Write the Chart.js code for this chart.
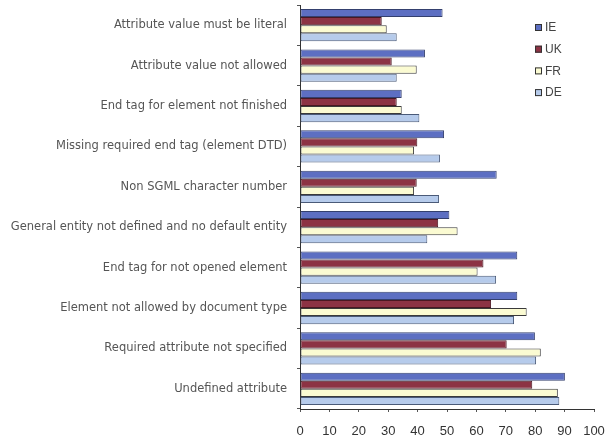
<!DOCTYPE html>
<html>
<head>
<meta charset="utf-8">
<script src="https://cdn.jsdelivr.net/npm/chart.js@4/dist/chart.umd.min.js"></script>
<style>
  html, body { margin: 0; padding: 0; background: #ffffff; }
  #wrap { width: 607px; height: 438px; position: relative; }
</style>
</head>
<body>
<div id="wrap"><canvas id="c"></canvas></div>
<script>
// Validation error types, listed top to bottom
const categories = [
  "Attribute value must be literal",
  "Attribute value not allowed",
  "End tag for element not finished",
  "Missing required end tag (element DTD)",
  "Non SGML character number",
  "General entity not defined and no default entity",
  "End tag for not opened element",
  "Element not allowed by document type",
  "Required attribute not specified",
  "Undefined attribute"
];

// Share of pages (%) per country
const seriesIE = [48.5, 42.5, 34.6, 49.0, 66.9, 50.8, 73.9, 73.9, 79.9, 90.1];
const seriesUK = [27.8, 31.2, 32.9, 39.9, 39.7, 47.0, 62.4, 65.0, 70.3, 79.0];
const seriesFR = [29.5, 39.7, 34.6, 38.8, 38.8, 53.6, 60.4, 77.1, 81.9, 87.7];
const seriesDE = [32.9, 32.9, 40.6, 47.6, 47.3, 43.3, 66.7, 72.8, 80.3, 88.2];

const seriesLabels = ["IE", "UK", "FR", "DE"];
const xTicks = [0, 10, 20, 30, 40, 50, 60, 70, 80, 90, 100];

const fills = ["#5d6fc2", "#8c3344", "#fbfbd2", "#b6cbeb"];
const edges = ["#34406e", "#4a1822", "#3a3a3a", "#4a5a78"];

// Small boxed legend in the upper right of the plot
const cornerLegend = {
  id: "cornerLegend",
  afterDraw(chart) {
    const ctx = chart.ctx;
    ctx.save();
    ctx.font = "12px 'Liberation Sans', Arial, sans-serif";
    ctx.textBaseline = "middle";
    chart.data.datasets.forEach((ds, i) => {
      const y = 27 + i * 21.7;
      const x = 535;
      ctx.fillStyle = ds.backgroundColor;
      ctx.fillRect(x, y - 3, 7, 7);
      ctx.strokeStyle = "#333";
      ctx.lineWidth = 1;
      ctx.strokeRect(x + 0.5, y - 2.5, 6, 6);
      ctx.fillStyle = "#444";
      ctx.fillText(ds.label, x + 10, y + 1);
    });
    ctx.restore();
  }
};

const values = [seriesIE, seriesUK, seriesFR, seriesDE];

new Chart(document.getElementById("c"), {
  type: "bar",
  data: {
    labels: categories,
    datasets: values.map((v, i) => ({
      label: seriesLabels[i],
      data: v,
      backgroundColor: fills[i],
      borderColor: edges[i],
      borderWidth: 1,
      borderSkipped: false,
      categoryPercentage: 0.8,
      barPercentage: 1.0
    }))
  },
  options: {
    indexAxis: "y",
    responsive: true,
    maintainAspectRatio: false,
    animation: false,
    layout: { padding: { top: 5, right: 13, left: 0, bottom: 0 } },
    plugins: {
      legend: { display: false },
      tooltip: { enabled: false }
    },
    scales: {
      x: {
        min: 0,
        max: 100,
        afterBuildTicks(scale) {
          scale.ticks = xTicks.map(v => ({ value: v }));
        },
        afterFit(scale) {
          scale.height = 29;
          scale.paddingLeft = 0;
          scale.paddingRight = 0;
        },
        border: { display: true, color: "#333", width: 1 },
        grid: {
          drawOnChartArea: false,
          drawTicks: true,
          tickLength: 3,
          color: "#555"
        },
        ticks: {
          color: "#333",
          padding: 12,
          maxRotation: 0,
          font: { family: "'Liberation Sans', Arial, sans-serif", size: 13 }
        }
      },
      y: {
        afterFit(scale) {
          scale.width = 300;
          scale.paddingTop = 0;
          scale.paddingBottom = 0;
        },
        border: { display: true, color: "#333", width: 1 },
        grid: {
          offset: true,
          drawOnChartArea: false,
          drawTicks: true,
          tickLength: 3,
          color: "#555"
        },
        ticks: {
          color: "#555",
          padding: 10,
          autoSkip: false,
          font: { family: "'DejaVu Sans', sans-serif", size: 11.5 }
        }
      }
    }
  },
  plugins: [cornerLegend]
});
</script>
</body>
</html>
